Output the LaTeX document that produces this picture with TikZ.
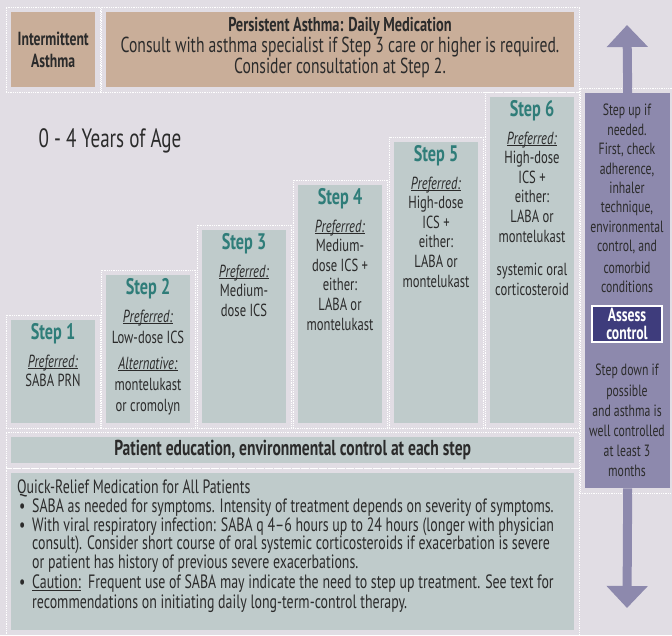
\documentclass[tikz,border=0pt]{standalone}
\usepackage{fontspec}
\setmainfont{PT Sans}[FakeStretch=0.72]
\usetikzlibrary{arrows.meta,positioning,fit}

\definecolor{bgcol}{HTML}{E1DDE4}
\definecolor{tancol}{HTML}{C9AE99}
\definecolor{stepcol}{HTML}{BFCBCB}
\definecolor{tealcol}{HTML}{2F7D79}
\definecolor{purpcol}{HTML}{8D89AD}
\definecolor{navycol}{HTML}{3E3C7C}
\definecolor{inkcol}{HTML}{2B2B2B}

\newcommand{\ulin}[1]{\setbox0\hbox{#1}\rlap{\rule[-1.8pt]{\wd0}{0.6pt}}#1}
\newcommand{\pref}{\ulin{\textit{Preferred:}}}
\newcommand{\bul}{\hspace*{2pt}\makebox[13pt][l]{\textbullet}}
\newcommand{\ind}{\hspace*{15pt}}

\tikzset{
  box/.style={inner sep=0pt, anchor=north west},
  tanbox/.style={box, fill=tancol, minimum height=75pt, align=center, text=inkcol},
  stepbox/.style={box, fill=stepcol, minimum width=84pt},
  outline/.style={draw=white, line width=0.8pt, dash pattern=on 0.9pt off 0.9pt, inner sep=5pt},
  steptitle/.style={text=tealcol, inner sep=0pt, font=\fontsize{22.5}{24}\selectfont\bfseries},
  stepbody/.style={text=inkcol, align=center, inner sep=0pt, font=\fontsize{17.5}{19.6}\selectfont},
  sidetext/.style={text=inkcol, align=center, inner sep=0pt, anchor=north, font=\fontsize{16.3}{19.4}\selectfont},
  bigarrow/.style={purpcol, line width=9pt, -{Triangle[width=40pt,length=22pt]}},
}

\begin{document}
\begin{tikzpicture}[x=1pt,y=-1pt]
  % background and page size
  \fill[bgcol] (0,0) rectangle (672,635);
  \useasboundingbox (0,0) rectangle (672,635);

  % Top row - intermittent / persistent
  \node[tanbox, minimum width=84pt, font=\fontsize{19}{22}\selectfont\bfseries] (int) at (11,12)
    {Intermittent\\ Asthma};
  \node[tanbox, minimum width=468pt] (pers) at (106,12) {};
  \node[text=inkcol, align=center, inner sep=0pt, anchor=north, font=\fontsize{21.7}{21}\selectfont]
    (perstext) at (340,17)
    {{\fontsize{20}{21}\selectfont\bfseries Persistent Asthma: Daily Medication}\\
     Consult with asthma specialist if Step 3 care or higher is required.\\
     Consider consultation at Step 2.};
  \node[outline, fit=(int)] (int-o) {};
  \node[outline, fit=(pers)] (pers-o) {};

  \node[text=inkcol, inner sep=0pt, font=\fontsize{26.5}{28}\selectfont] (age) at (110,141) {0 - 4 Years of Age};

  % Staircase of steps
  \foreach \i/\x/\top in {1/11/320,2/106/275,3/202/230,4/298/185,5/394/142,6/490/97} {
    \node[stepbox, minimum height={423-\top}] (s\i) at (\x,\top) {};
    \node[outline, fit=(s\i)] (s\i-o) {};
    \node[steptitle] (t\i) at ({\x+42},{\top+14}) {Step \i};
  }
  \node[stepbody, below=10pt of t1] (b1) {\pref\\ SABA PRN};
  \node[stepbody, below=10pt of t2, font=\fontsize{17.5}{21}\selectfont] (b2) {\pref\\ Low-dose ICS\\[5pt]
    \ulin{\textit{Alternative:}}\\ montelukast\\ or cromolyn};
  \node[stepbody, below=10pt of t3] (b3) {\pref\\ Medium-\\ dose ICS};
  \node[stepbody, below=10pt of t4] (b4) {\pref\\ Medium-\\ dose ICS +\\ either:\\ LABA or\\ montelukast};
  \node[stepbody, below=10pt of t5] (b5) {\pref\\ High-dose\\ ICS +\\ either:\\ LABA or\\ montelukast};
  \node[stepbody, below=10pt of t6] (b6) {\pref\\ High-dose\\ ICS +\\ either:\\ LABA or\\ montelukast\\[14pt]
    systemic oral\\ corticosteroid};

  % Bottom bars
  \node[box, fill=stepcol, minimum width=563pt, minimum height=26pt, text=inkcol,
    font=\fontsize{21.6}{22}\selectfont\bfseries] (edu) at (11,437)
    {Patient education, environmental control at each step};
  \node[outline, fit=(edu)] (edu-o) {};
  \node[box, fill=stepcol, minimum width=563pt, minimum height=157pt] (quick) at (11,473) {};
  \node[outline, fit=(quick)] (quick-o) {};
  \node[box, text=inkcol, align=left, font=\fontsize{19.3}{18.6}\selectfont] (qtext) at (17,480)
    {Quick-Relief Medication for All Patients\\
     \bul SABA as needed for symptoms. Intensity of treatment depends on severity of symptoms.\\
     \bul With viral respiratory infection: SABA q 4--6 hours up to 24 hours (longer with physician\\
     \ind consult). Consider short course of oral systemic corticosteroids if exacerbation is severe\\
     \ind or patient has history of previous severe exacerbations.\\[1.5pt]
     \bul \ulin{Caution:}\ \ Frequent use of SABA may indicate the need to step up treatment. See text for\\[1.5pt]
     \ind recommendations on initiating daily long-term-control therapy.};

  % Right column - assess control
  \node[box, fill=purpcol, minimum width=85pt, minimum height=395pt] (ctrl) at (585,93) {};
  \node[outline, fit=(ctrl)] (ctrl-o) {};
  \coordinate (uptip) at (627,25);
  \coordinate (downtip) at (627,608);
  \draw[bigarrow] (ctrl.north) -- (uptip);
  \draw[bigarrow] (ctrl.south) -- (downtip);
  \node[sidetext] (uptext) at (627,104) {Step up if\\ needed.\\ First, check\\ adherence,\\ inhaler\\
    technique,\\ environmental\\ control, and\\[2pt] comorbid\\ conditions};
  \node[draw=white, line width=1.2pt, fill=navycol, text=white, minimum width=70pt, minimum height=36pt,
    inner sep=0pt, align=center, font=\fontsize{19}{18}\selectfont\bfseries] (assess) at (627,324)
    {Assess\\ control};
  \node[sidetext, font=\fontsize{16.3}{20.2}\selectfont] (downtext) at (627,364) {Step down if\\ possible\\
    and asthma is\\ well controlled\\ at least 3\\ months};
\end{tikzpicture}
\end{document}
